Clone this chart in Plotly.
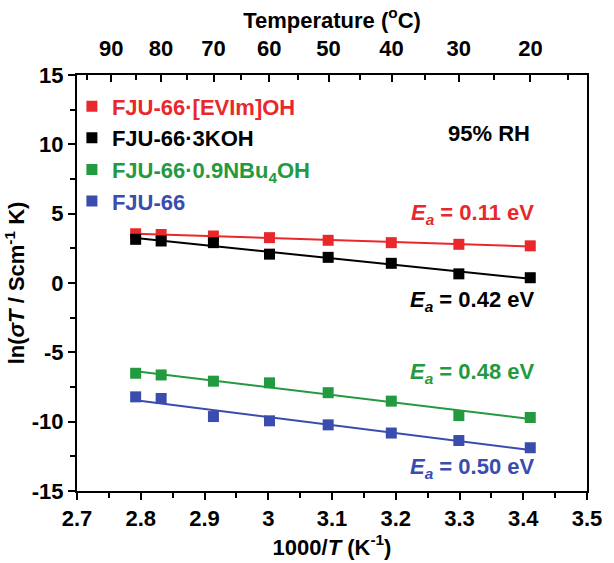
import numpy as np
import plotly.graph_objects as go

# Data
inv_T = [2.792, 2.832, 2.914, 3.002, 3.094, 3.193, 3.299, 3.411]
evim = [3.55, 3.50, 3.39, 3.27, 3.08, 2.91, 2.79, 2.68]
koh = [3.15, 3.03, 2.91, 2.08, 1.85, 1.42, 0.66, 0.38]
nbu = [-6.51, -6.63, -7.08, -7.20, -7.91, -8.52, -9.56, -9.70]
fju = [-8.21, -8.33, -9.63, -9.94, -10.23, -10.82, -11.36, -11.88]

series_names = ["FJU-66·[EVIm]OH", "FJU-66·3KOH", "FJU-66·0.9NBu<sub>4</sub>OH", "FJU-66"]
series_vals = [evim, koh, nbu, fju]
colors = ["#e8282c", "#000000", "#239a40", "#3a4cae"]
ea_labels = ["0.11", "0.42", "0.48", "0.50"]
ea_y = [4.95, -1.3, -6.5, -13.35]

x_ticks = [2.7, 2.8, 2.9, 3.0, 3.1, 3.2, 3.3, 3.4, 3.5]
x_ticktext = ["2.7", "2.8", "2.9", "3", "3.1", "3.2", "3.3", "3.4", "3.5"]
y_ticks = [-15, -10, -5, 0, 5, 10, 15]
y_ticktext = ["-15", "-10", "-5", "0", "5", "10", "15"]
top_temps = [90, 80, 70, 60, 50, 40, 30, 20]
top_minor = [95, 85, 75, 65, 55, 45, 35, 25, 15]

FONT = "Liberation Sans, Arial, sans-serif"

fig = go.Figure()
xs = np.array(inv_T)
xfit = np.array([xs.min(), xs.max()])
for name, vals, c in zip(series_names, series_vals, colors):
    p = np.polyfit(xs, np.array(vals), 1)
    fig.add_trace(go.Scatter(x=xfit, y=np.polyval(p, xfit), mode="lines",
                             line=dict(color=c, width=2), showlegend=False,
                             hoverinfo="skip"))
for name, vals, c in zip(series_names, series_vals, colors):
    fig.add_trace(go.Scatter(x=inv_T, y=vals, mode="markers",
                             marker=dict(symbol="square", size=11, color=c),
                             name=f"<span style='color:{c}'>{name}</span>"))

# invisible trace for top axis
fig.add_trace(go.Scatter(x=[2.7, 3.5], y=[0, 0], xaxis="x2", mode="markers",
                         marker=dict(opacity=0), showlegend=False, hoverinfo="skip"))

for lab, y, c in zip(ea_labels, ea_y, colors):
    fig.add_annotation(x=3.42, y=y, xanchor="right", yanchor="middle",
                       text=f"<i>E</i><sub><i>a</i></sub> = {lab} eV",
                       showarrow=False, font=dict(color=c, size=22, family=FONT, weight="bold"))
fig.add_annotation(x=3.413, y=10.8, xanchor="right", yanchor="middle", text="95% RH",
                   showarrow=False, font=dict(color="black", size=22, family=FONT, weight="bold"))

axis_common = dict(showline=True, linecolor="black", linewidth=2, showgrid=False,
                   zeroline=False, tickcolor="black", tickwidth=2,
                   tickfont=dict(size=22, family=FONT, color="black", weight="bold"))

fig.update_layout(
    width=614, height=563,
    margin=dict(l=77, r=20, t=75, b=66),
    paper_bgcolor="white", plot_bgcolor="white",
    font=dict(family=FONT, size=22, color="black", weight="bold"),
    xaxis=dict(range=[2.7, 3.5], tickmode="array",
               ticks="outside", ticklen=7, mirror=True,
               tickvals=x_ticks, ticktext=x_ticktext,
               minor=dict(dtick=0.05, tick0=2.7, ticks="outside", ticklen=5, tickwidth=2, tickcolor="black"),
               title=dict(text="1000/<i>T</i> (K<sup>-1</sup>)", standoff=4,
                          font=dict(size=22, family=FONT, weight="bold")),
               **axis_common),
    xaxis2=dict(range=[2.7, 3.5], overlaying="x", side="top", anchor="y",
                tickmode="array",
                tickvals=[1000 / (t + 273.15) for t in top_temps],
                ticktext=[str(t) for t in top_temps],
                ticks="inside", ticklen=7, ticklabelstandoff=8,
                minor=dict(tickmode="array", tickvals=[1000 / (t + 273.15) for t in top_minor],
                           ticks="inside", ticklen=5, tickwidth=2, tickcolor="black"),
                title=dict(text="Temperature (<sup>o</sup>C)", standoff=2,
                           font=dict(size=22, family=FONT, weight="bold")),
                **axis_common),
    yaxis=dict(range=[-15, 15], tickmode="array", tickvals=y_ticks, ticktext=y_ticktext,
               ticks="outside", ticklen=7, mirror=True,
               minor=dict(dtick=2.5, tick0=-15, ticks="outside", ticklen=5, tickwidth=2, tickcolor="black"),
               title=dict(text="ln(<i>σT</i> / Scm<sup>-1</sup> K)", standoff=1,
                          font=dict(size=22, family=FONT, weight="bold")),
               **axis_common),
    legend=dict(x=-0.01, y=0.975, xanchor="left", yanchor="top", bgcolor="rgba(0,0,0,0)",
                font=dict(size=22, family=FONT, weight="bold"), itemwidth=30,
                tracegroupgap=0),
)

fig.write_html("out.html")
